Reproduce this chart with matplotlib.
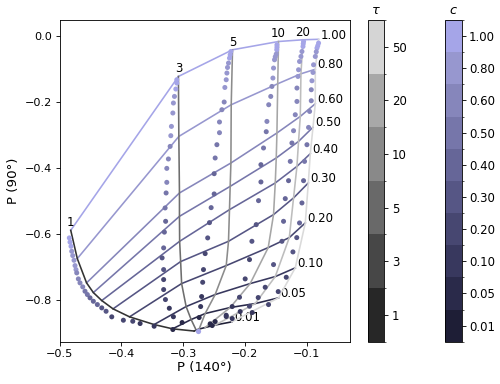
import matplotlib
matplotlib.use("Agg")
import matplotlib.pyplot as plt
from matplotlib.colors import ListedColormap, BoundaryNorm
import matplotlib as mpl

# ---------------- data ----------------
tau_vals = [1, 3, 5, 10, 20, 50]
tau_labels = ["1", "3", "5", "10", "20", "50"]
c_vals = [1.00, 0.80, 0.60, 0.50, 0.40, 0.30, 0.20, 0.10, 0.05, 0.01]
c_labels = ["1.00", "0.80", "0.60", "0.50", "0.40", "0.30", "0.20", "0.10", "0.05", "0.01"]

tau_colors = ['#272727', '#474747', '#696969', '#898989', '#a8a8a8', '#d5d5d5']
tau_line_colors = ['#333333', '#6e6e6e', '#8c8c8c', '#a6a6a6', '#bdbdbd', '#dadada']
c_colors = ['#1e1e36', '#2a2a4a', '#38385e', '#474771', '#565685',
            '#666698', '#7676aa', '#8686bb', '#9797cf', '#a5a5e8']  # 0.01 ... 1.00

# model grid: for each tau, P(140) and P(90) at c = 1.00 ... 0.01
grid_x_t1 = [-0.4818, -0.4712, -0.4562, -0.4452, -0.4316, -0.4133, -0.3866, -0.3468, -0.3169, -0.2820]
grid_y_t1 = [-0.590, -0.6758, -0.7494, -0.7788, -0.8030, -0.8282, -0.8524, -0.8758, -0.8888, -0.8955]
grid_x_t3 = [-0.3075, -0.3068, -0.3058, -0.3058, -0.3055, -0.3039, -0.3023, -0.2950, -0.2869, -0.2788]
grid_y_t3 = [-0.1233, -0.3052, -0.4767, -0.5476, -0.6233, -0.6848, -0.7515, -0.8212, -0.8606, -0.8924]
grid_x_t5 = [-0.2199, -0.2220, -0.2225, -0.2237, -0.2248, -0.2264, -0.2301, -0.2480, -0.2642, -0.2739]
grid_y_t5 = [-0.0424, -0.2091, -0.3858, -0.4567, -0.5273, -0.6233, -0.6970, -0.7848, -0.8424, -0.8894]
grid_x_t10 = [-0.1454, -0.1467, -0.1480, -0.1491, -0.1507, -0.1535, -0.1621, -0.1913, -0.2237, -0.2642]
grid_y_t10 = [-0.0173, -0.1455, -0.2948, -0.3706, -0.4464, -0.5424, -0.6424, -0.7515, -0.8242, -0.8848]
grid_x_t20 = [-0.1058, -0.1091, -0.1102, -0.1130, -0.1156, -0.1211, -0.1280, -0.1507, -0.1831, -0.2480]
grid_y_t20 = [-0.0121, -0.1152, -0.2445, -0.3203, -0.3961, -0.4918, -0.6121, -0.7303, -0.8121, -0.8773]
grid_x_t50 = [-0.0806, -0.0859, -0.0859, -0.0896, -0.0940, -0.0972, -0.1021, -0.1183, -0.1454, -0.2209]
grid_y_t50 = [-0.0106, -0.1015, -0.2061, -0.2773, -0.3576, -0.4464, -0.5676, -0.7039, -0.7948, -0.8676]

grid_x = [grid_x_t1, grid_x_t3, grid_x_t5, grid_x_t10, grid_x_t20, grid_x_t50]
grid_y = [grid_y_t1, grid_y_t3, grid_y_t5, grid_y_t10, grid_y_t20, grid_y_t50]

# simulated points (dots), c values shared by every tau column
dot_c = [1.00, 0.96, 0.92, 0.88, 0.84, 0.80, 0.76, 0.72, 0.68, 0.64, 0.60, 0.56, 0.52,
         0.48, 0.44, 0.40, 0.36, 0.32, 0.28, 0.24, 0.20, 0.16, 0.12, 0.08, 0.04]

d1_x = [-0.4841, -0.4830, -0.4814, -0.4802, -0.4786, -0.4765, -0.4749, -0.4733, -0.4721, -0.4695, -0.4668, -0.4624, -0.4587,
        -0.4549, -0.4506, -0.4452, -0.4387, -0.4316, -0.4246, -0.4154, -0.3966, -0.3814, -0.3695, -0.3468, -0.3165]
d1_y = [-0.6130, -0.6258, -0.6385, -0.6536, -0.6667, -0.6809, -0.6970, -0.7091, -0.7191, -0.7373, -0.7494, -0.7615, -0.7748,
        -0.7848, -0.7948, -0.8052, -0.8152, -0.8252, -0.8355, -0.8524, -0.8627, -0.8658, -0.8727, -0.8809, -0.8909]
d3_x = [-0.3101, -0.3101, -0.3117, -0.3139, -0.3156, -0.3165, -0.3188, -0.3198, -0.3209, -0.3237, -0.3263, -0.3263, -0.3274,
        -0.3290, -0.3282, -0.3302, -0.3314, -0.3339, -0.3314, -0.3314, -0.3314, -0.3285, -0.3222, -0.3156, -0.3015]
d3_y = [-0.1333, -0.1433, -0.1615, -0.1839, -0.2039, -0.2342, -0.2748, -0.3030, -0.3355, -0.3736, -0.4021, -0.4445, -0.4767,
        -0.5221, -0.5627, -0.5955, -0.6433, -0.6736, -0.7091, -0.7394, -0.7697, -0.8000, -0.8264, -0.8521, -0.8697]
d5_x = [-0.2225, -0.2237, -0.2248, -0.2264, -0.2280, -0.2290, -0.2301, -0.2323, -0.2334, -0.2371, -0.2410, -0.2410, -0.2452,
        -0.2480, -0.2496, -0.2496, -0.2545, -0.2572, -0.2601, -0.2642, -0.2669, -0.2682, -0.2699, -0.2715, -0.2739]
d5_y = [-0.0476, -0.0576, -0.0676, -0.0827, -0.0961, -0.1130, -0.1333, -0.1567, -0.2009, -0.2242, -0.2615, -0.2939, -0.3303,
        -0.3706, -0.4182, -0.4797, -0.5212, -0.5667, -0.6130, -0.6606, -0.7091, -0.7476, -0.7909, -0.8212, -0.8545]
d10_x = [-0.1480, -0.1480, -0.1483, -0.1491, -0.1507, -0.1519, -0.1535, -0.1545, -0.1561, -0.1580, -0.1613, -0.1642, -0.1653,
         -0.1697, -0.1739, -0.1739, -0.1778, -0.1815, -0.1885, -0.1924, -0.1994, -0.2086, -0.2204, -0.2301, -0.2480]
d10_y = [-0.0273, -0.0348, -0.0424, -0.0555, -0.0636, -0.0727, -0.0979, -0.1282, -0.1536, -0.1839, -0.2091, -0.2597, -0.2909,
         -0.3403, -0.3909, -0.4433, -0.5000, -0.5727, -0.6233, -0.6788, -0.7373, -0.7930, -0.8212, -0.8476, -0.8667]
d20_x = [-0.1049, -0.1054, -0.1058, -0.1075, -0.1091, -0.1114, -0.1130, -0.1140, -0.1156, -0.1156, -0.1183, -0.1211, -0.1237,
         -0.1264, -0.1292, -0.1345, -0.1373, -0.1399, -0.1535, -0.1670, -0.1783, -0.1924, -0.2075, -0.2301, -0.2561]
d20_y = [-0.0173, -0.0242, -0.0324, -0.0476, -0.0627, -0.0779, -0.1030, -0.1233, -0.1585, -0.1991, -0.2394, -0.2879, -0.3252,
         -0.3809, -0.4394, -0.4939, -0.5627, -0.6233, -0.6939, -0.7627, -0.7939, -0.8203, -0.8364, -0.8515, -0.8736]
d50_x = [-0.0806, -0.0819, -0.0832, -0.0843, -0.0859, -0.0887, -0.0896, -0.0913, -0.0924, -0.0924, -0.0951, -0.0968, -0.0994,
         -0.1033, -0.1049, -0.1075, -0.1114, -0.1159, -0.1221, -0.1329, -0.1459, -0.1616, -0.1880, -0.2204, -0.2528]
d50_y = [-0.0221, -0.0303, -0.0373, -0.0485, -0.0627, -0.0879, -0.1112, -0.1364, -0.1636, -0.1970, -0.2294, -0.2779, -0.3303,
         -0.3809, -0.4394, -0.5070, -0.5676, -0.6121, -0.6555, -0.7324, -0.7758, -0.8152, -0.8394, -0.8576, -0.8788]

dots_x = [d1_x, d3_x, d5_x, d10_x, d20_x, d50_x]
dots_y = [d1_y, d3_y, d5_y, d10_y, d20_y, d50_y]

# point where all tau tracks start (c -> 0)
origin_x = [-0.2750]
origin_y = [-0.8961]
origin_c = [1.00]

# ---------------- figure ----------------
DPI = 77
fig = plt.figure(figsize=(500 / DPI, 384 / DPI), dpi=DPI)
ax = fig.add_axes([0.119, 0.110, 0.581, 0.838])

c_cmap = ListedColormap(c_colors)
c_bounds = [0.0, 0.03, 0.075, 0.15, 0.25, 0.35, 0.45, 0.55, 0.70, 0.90, 1.10]
c_norm = BoundaryNorm(c_bounds, c_cmap.N)

# constant-c lines
for j, cv in enumerate(c_vals):
    xs = [grid_x[i][j] for i in range(len(tau_vals))]
    ys = [grid_y[i][j] for i in range(len(tau_vals))]
    ax.plot(xs, ys, color=c_cmap(c_norm(cv)), lw=1.5, zorder=2)
    ax.annotate(c_labels[j], (xs[-1], ys[-1]), xytext=(2, 4), textcoords='offset points',
                ha='left', va='center', fontsize=11)

# constant-tau lines
for i, tv in enumerate(tau_vals):
    ax.plot(grid_x[i], grid_y[i], color=tau_line_colors[i], lw=1.5, zorder=3)
    if tv != 50:
        ax.annotate(tau_labels[i], (grid_x[i][0], grid_y[i][0]), xytext=(0, 1), textcoords='offset points',
                    ha='center', va='bottom', fontsize=11)

# dots
for i in range(len(tau_vals)):
    ax.scatter(dots_x[i], dots_y[i], c=dot_c, cmap=c_cmap, norm=c_norm, s=22, linewidths=0, zorder=4)
ax.scatter(origin_x, origin_y, c=origin_c, cmap=c_cmap, norm=c_norm, s=24, linewidths=0, zorder=4)

ax.set_xlim(-0.5, -0.0297)
ax.set_ylim(-0.928, 0.048)
ax.set_xticks([-0.5, -0.4, -0.3, -0.2, -0.1])
ax.set_yticks([-0.8, -0.6, -0.4, -0.2, 0.0])
ax.tick_params(labelsize=10.5)
ax.set_xlabel("P (140°)", fontsize=12.5, labelpad=2)
ax.set_ylabel("P (90°)", fontsize=12.5, labelpad=4)

# colorbars
cax1 = fig.add_axes([0.736, 0.110, 0.0326, 0.838])
cax2 = fig.add_axes([0.8906, 0.110, 0.0326, 0.838])

t_cmap = ListedColormap(tau_colors)
t_norm = BoundaryNorm(list(range(len(tau_vals) + 1)), t_cmap.N)
cb1 = mpl.colorbar.ColorbarBase(cax1, cmap=t_cmap, norm=t_norm)
cb1.set_ticks([k + 0.5 for k in range(len(tau_vals))])
cb1.set_ticklabels(tau_labels)
cax1.tick_params(labelsize=11)
cax1.set_title(r"$\tau$", fontsize=12)

cc_cmap = ListedColormap(c_colors)
cc_norm = BoundaryNorm(list(range(len(c_vals) + 1)), cc_cmap.N)
cb2 = mpl.colorbar.ColorbarBase(cax2, cmap=cc_cmap, norm=cc_norm)
cb2.set_ticks([k + 0.5 for k in range(len(c_vals))])
cb2.set_ticklabels(c_labels[::-1])
cax2.tick_params(labelsize=11)
cax2.set_title(r"$c$", fontsize=12)

fig.savefig("out.png", dpi=DPI)
